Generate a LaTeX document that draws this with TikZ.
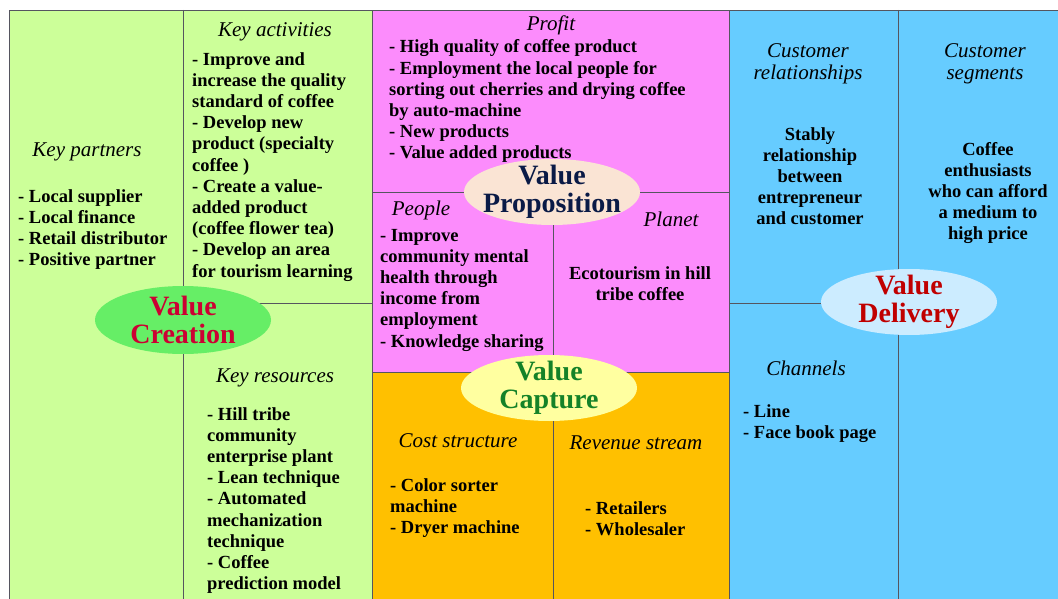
\documentclass[tikz,border=0pt]{standalone}
\usepackage{fontspec}
\setmainfont{Liberation Serif}
\usetikzlibrary{positioning}

\definecolor{kgreen}{RGB}{204,255,153}
\definecolor{kpink}{RGB}{252,140,252}
\definecolor{korange}{RGB}{255,192,0}
\definecolor{kblue}{RGB}{102,204,255}
\definecolor{linegray}{RGB}{85,85,95}
\definecolor{crefill}{RGB}{102,238,102}
\definecolor{profill}{RGB}{250,228,212}
\definecolor{capfill}{RGB}{255,255,160}
\definecolor{delfill}{RGB}{204,236,255}
\definecolor{crered}{RGB}{204,0,51}
\definecolor{delred}{RGB}{192,0,0}
\definecolor{pronavy}{RGB}{10,26,70}
\definecolor{capgreen}{RGB}{20,130,40}

\begin{document}
\begin{tikzpicture}[x=1pt,y=-1pt,
  every node/.style={inner sep=0pt},
  body/.style={font=\fontsize{18.5}{21.2}\selectfont\bfseries, align=left},
  head/.style={font=\fontsize{21}{22}\selectfont\itshape, align=center},
  title/.style={font=\fontsize{28}{28}\selectfont\bfseries, align=center},
  rule/.style={draw=linegray, line width=0.8pt}]
  \useasboundingbox (0,0) rectangle (1058,599);

  % the four blocks
  \draw[rule,fill=kgreen] (9,10) rectangle (372,599);
  \draw[rule,fill=kpink] (372,10) rectangle (729,372);
  \draw[rule,fill=korange] (372,372) rectangle (729,599);
  \draw[rule,fill=kblue] (729,10) rectangle (1058,599);

  % inner dividers
  \draw[rule] (183,10) -- (183,599);
  \draw[rule] (183,303) -- (372,303);
  \draw[rule] (372,192) -- (729,192);
  \draw[rule] (553,192) -- (553,599);
  \draw[rule] (729,303) -- (898,303);
  \draw[rule] (898,10) -- (898,599);

  % value creation side (multi-line texts sit on their last baseline)
  \node[head,anchor=base] (kp) at (87,157) {Key partners};
  \node[body,anchor=base west] (kplist) at (18,265.6)
    {- Local supplier\\- Local finance\\- Retail distributor\\- Positive partner};
  \node[head,anchor=base] (ka) at (275,37) {Key activities};
  \node[body,anchor=base west] (kalist) at (192,277)
    {- Improve and\\increase the quality\\standard of coffee\\- Develop new\\product (specialty\\coffee )\\- Create a value-\\added product\\(coffee flower tea)\\- Develop an area\\for tourism learning};
  \node[head,anchor=base] (kr) at (275,382) {Key resources};
  \node[body,anchor=base west] (krlist) at (207,589.6)
    {- Hill tribe\\community\\enterprise plant\\- Lean technique\\- Automated\\mechanization\\technique\\- Coffee\\prediction model};

  % value proposition
  \node[head,anchor=base] (profit) at (551,31) {Profit};
  \node[body,anchor=base west] (profitlist) at (389,159)
    {- High quality of coffee product\\- Employment the local people for\\sorting out cherries and drying coffee\\by auto-machine\\- New products\\- Value added products};
  \node[head,anchor=base] (people) at (421,215) {People};
  \node[body,anchor=base west] (peoplelist) at (380,347)
    {- Improve\\community mental\\health through\\income from\\employment\\- Knowledge sharing};
  \node[head,anchor=base] (planet) at (671,226) {Planet};
  \node[body,align=center,anchor=base] (planettext) at (640,300.2)
    {Ecotourism in hill\\tribe coffee};

  % value capture
  \node[head,anchor=base] (cost) at (458,447) {Cost structure};
  \node[body,anchor=base west] (costlist) at (390,533.4)
    {- Color sorter\\machine\\- Dryer machine};
  \node[head,anchor=base] (revenue) at (636,449) {Revenue stream};
  \node[body,anchor=base west] (revlist) at (585,535.2)
    {- Retailers\\- Wholesaler};

  % value delivery
  \node[head,anchor=base] (cr) at (808,80) {Customer\\relationships};
  \node[body,align=center,anchor=base] (crtext) at (810,224.8)
    {Stably\\relationship\\between\\entrepreneur\\and customer};
  \node[head,anchor=base] (cs) at (985,80) {Customer\\segments};
  \node[body,align=center,anchor=base] (cstext) at (988,239.8)
    {Coffee\\enthusiasts\\who can afford\\a medium to\\high price};
  \node[head,anchor=base] (ch) at (806,375) {Channels};
  \node[body,anchor=base west] (chlist) at (743,438.2)
    {- Line\\- Face book page};

  % the four value ellipses
  \fill[crefill] (183,320) ellipse [x radius=88, y radius=34];
  \node[title,text=crered] (creation) at (183,320) {Value\\Creation};
  \fill[profill] (552,192) ellipse [x radius=88, y radius=33];
  \node[title,text=pronavy] (proposition) at (552,192) {Value\\Proposition};
  \fill[capfill] (549,388) ellipse [x radius=88, y radius=33];
  \node[title,text=capgreen] (capture) at (549,388) {Value\\Capture};
  \fill[delfill] (909,302) ellipse [x radius=88, y radius=33];
  \node[title,text=delred] (delivery) at (909,302) {Value\\Delivery};
\end{tikzpicture}
\end{document}
